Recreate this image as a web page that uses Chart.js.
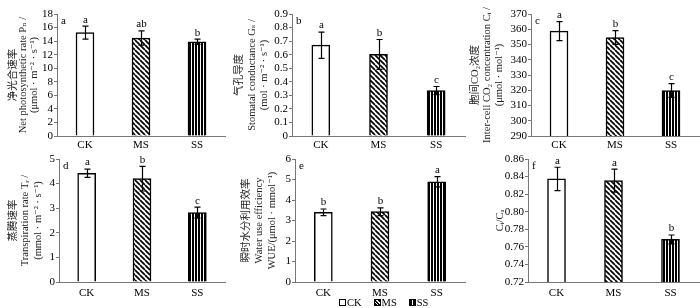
<!DOCTYPE html>
<html><head><meta charset="utf-8">
<script src="https://cdn.jsdelivr.net/npm/chart.js@4.4.1/dist/chart.umd.min.js"></script>
<style>
html,body{margin:0;padding:0;background:#fff;}
#wrap{position:relative;width:700px;height:308px;overflow:hidden;background:#fff;}
#wrap canvas{position:absolute;}
#legend{position:absolute;left:339px;top:296px;height:12px;font:10.5px "Liberation Serif",serif;color:#000;display:flex;align-items:center;white-space:nowrap;}
#legend .it{display:flex;align-items:center;margin-right:12px;}
#legend .box{display:inline-block;width:5px;height:5px;border:1px solid #000;margin-right:1px;}
</style></head><body>
<div id="wrap">
<canvas id="pa" width="230" height="150" style="left:0;top:0"></canvas>
<canvas id="pb" width="240" height="150" style="left:230px;top:0"></canvas>
<canvas id="pc" width="235" height="150" style="left:465px;top:0"></canvas>
<canvas id="pd" width="230" height="158" style="left:0;top:150px"></canvas>
<canvas id="pe" width="240" height="158" style="left:230px;top:150px"></canvas>
<canvas id="pf" width="235" height="158" style="left:465px;top:150px"></canvas>
<div id="legend"></div>
</div>
<script>
// ---- data ----
const categories = ['CK', 'MS', 'SS'];

const valuesA = [15.25, 14.45, 13.9];
const errorsA = [0.95, 1.05, 0.38];
const lettersA = ['a', 'ab', 'b'];
const ticksA = ['0','2','4','6','8','10','12','14','16','18'];

const valuesB = [0.67, 0.602, 0.335];
const errorsB = [0.097, 0.11, 0.03];
const lettersB = ['a', 'b', 'c'];
const ticksB = ['0','0.1','0.2','0.3','0.4','0.5','0.6','0.7','0.8','0.9'];

const valuesC = [358.8, 354.6, 319.8];
const errorsC = [6.2, 4.5, 4.5];
const lettersC = ['a', 'b', 'c'];
const ticksC = ['290','300','310','320','330','340','350','360','370'];

const valuesD = [4.42, 4.2, 2.82];
const errorsD = [0.17, 0.5, 0.22];
const lettersD = ['a', 'b', 'c'];
const ticksD = ['0','1','2','3','4','5'];

const valuesE = [3.40, 3.43, 4.89];
const errorsE = [0.16, 0.19, 0.25];
const lettersE = ['b', 'b', 'a'];
const ticksE = ['0','1','2','3','4','5','6'];

const valuesF = [0.8373, 0.8354, 0.7685];
const errorsF = [0.0133, 0.013, 0.005];
const lettersF = ['a', 'a', 'b'];
const ticksF = ['0.72','0.74','0.76','0.78','0.80','0.82','0.84','0.86'];

const panelTags = ['a', 'b', 'c', 'd', 'e', 'f'];
const titleA = ['净光合速率', 'Net photosynthetic rate Pₙ /', '(μmol · m⁻² · s⁻¹)'];
const titleB = ['气孔导度', 'Stomatal conductance Gₛ /', '(mol · m⁻² · s⁻¹)'];
const titleC = ['胞间CO₂浓度', 'Inter-cell CO₂ concentration Cᵢ /', '(μmol · mol⁻¹)'];
const titleD = ['蒸腾速率', 'Transpiration rate Tᵣ /', '(mmol · m⁻² · s⁻¹)'];
const titleE = ['瞬时水分利用效率', 'Water use efficiency', 'WUE/(μmol · mmol⁻¹)'];
const titleF = ['Cᵢ/Cₐ'];

// ---- styles ----
const SERIF = '"Liberation Serif", "Noto Sans CJK SC", "DejaVu Serif", serif';
const AXIS = '#777';

function hatchPattern() {
  const c = document.createElement('canvas'); c.width = 5; c.height = 5;
  const g = c.getContext('2d');
  g.fillStyle = '#fff'; g.fillRect(0, 0, 5, 5);
  g.strokeStyle = '#000'; g.lineWidth = 1.7;
  for (const k of [-5, 0, 5]) { g.beginPath(); g.moveTo(k, 0); g.lineTo(k + 5, 5); g.stroke(); }
  return g.createPattern(c, 'repeat');
}
function stripePattern() {
  const c = document.createElement('canvas'); c.width = 3; c.height = 3;
  const g = c.getContext('2d');
  g.fillStyle = '#fff'; g.fillRect(0, 0, 3, 3);
  g.fillStyle = '#000'; g.fillRect(0, 0, 2, 3);
  return g.createPattern(c, 'repeat');
}
const fills = ['#ffffff', hatchPattern(), stripePattern()];

function makePanel(id, o) {
  const canvas = document.getElementById(id);
  const W = canvas.width, H = canvas.height;
  const tickVals = o.ticks.map(Number);
  const extras = {
    id: 'extras_' + id,
    afterDatasetsDraw(chart) {
      const ctx = chart.ctx, ys = chart.scales.y, meta = chart.getDatasetMeta(0);
      ctx.save();
      ctx.strokeStyle = '#000'; ctx.lineWidth = 1.2;
      ctx.fillStyle = '#000';
      ctx.font = '11px ' + SERIF;
      ctx.textAlign = 'center'; ctx.textBaseline = 'bottom';
      meta.data.forEach((bar, i) => {
        const v = o.values[i], e = o.errors[i];
        const yt = ys.getPixelForValue(v + e), yb = ys.getPixelForValue(v - e);
        const x = Math.round(bar.x) + 0.5;
        ctx.beginPath();
        ctx.moveTo(x, yt); ctx.lineTo(x, yb);
        ctx.moveTo(x - 3, yt); ctx.lineTo(x + 3, yt);
        ctx.moveTo(x - 3, yb); ctx.lineTo(x + 3, yb);
        ctx.stroke();
        ctx.fillText(o.letters[i], x, yt - 1);
      });
      const a = chart.chartArea;
      ctx.textAlign = 'left'; ctx.textBaseline = 'middle';
      ctx.fillText(o.tag, a.left + 4, a.top + 7);
      ctx.restore();
    }
  };
  return new Chart(canvas, {
    type: 'bar',
    data: {
      labels: categories,
      datasets: [{
        data: o.values,
        backgroundColor: fills,
        borderColor: '#000',
        borderWidth: 1.5,
        barThickness: 18
      }]
    },
    options: {
      responsive: false,
      animation: false,
      devicePixelRatio: 1,
      layout: { padding: { left: 0, top: o.top, right: W - o.right, bottom: 0 } },
      plugins: { legend: { display: false }, tooltip: { enabled: false } },
      scales: {
        x: {
          grid: { display: false, drawTicks: false },
          border: { display: true, color: AXIS, width: 1 },
          ticks: { color: '#000', font: { family: SERIF, size: 11 }, padding: o.xPad },
          afterFit: s => { s.height = H - o.bottom; }
        },
        y: {
          min: tickVals[0], max: tickVals[tickVals.length - 1],
          afterBuildTicks: s => { s.ticks = tickVals.map(v => ({ value: v })); },
          grid: { display: true, drawOnChartArea: false, drawTicks: true, tickLength: 3, color: AXIS },
          border: { display: true, color: AXIS, width: 1 },
          ticks: { color: '#000', font: { family: SERIF, size: 11, lineHeight: 1 }, padding: 1,
                   autoSkip: false, callback: (v, i) => o.ticks[i] },
          title: {
            display: true, text: o.title, color: '#222',
            font: { family: SERIF, size: 10.5, lineHeight: o.lh + 'px' },
            padding: { top: o.tpad, bottom: 0 }
          },
          afterFit: s => { s.width = o.left; }
        }
      }
    },
    plugins: [extras]
  });
}

makePanel('pa', { values: valuesA, errors: errorsA, letters: lettersA, ticks: ticksA, tag: panelTags[0], title: titleA,
  left: 57, right: 225, top: 14, bottom: 136, xPad: 3, lh: 10.5, tpad: 7.5 });
makePanel('pb', { values: valuesB, errors: errorsB, letters: lettersB, ticks: ticksB, tag: panelTags[1], title: titleB,
  left: 62, right: 235, top: 14, bottom: 136, xPad: 3, lh: 12.5, tpad: 3 });
makePanel('pc', { values: valuesC, errors: errorsC, letters: lettersC, ticks: ticksC, tag: panelTags[2], title: titleC,
  left: 66, right: 234, top: 14, bottom: 136, xPad: 3, lh: 12, tpad: 4 });
makePanel('pd', { values: valuesD, errors: errorsD, letters: lettersD, ticks: ticksD, tag: panelTags[3], title: titleD,
  left: 59, right: 225, top: 9, bottom: 132, xPad: 5, lh: 12.3, tpad: 7 });
makePanel('pe', { values: valuesE, errors: errorsE, letters: lettersE, ticks: ticksE, tag: panelTags[4], title: titleE,
  left: 65, right: 235, top: 9, bottom: 132, xPad: 5, lh: 13, tpad: 10 });
makePanel('pf', { values: valuesF, errors: errorsF, letters: lettersF, ticks: ticksF, tag: panelTags[5], title: titleF,
  left: 63, right: 234, top: 9, bottom: 132, xPad: 5, lh: 12, tpad: 29 });

// ---- legend ----
const legendFills = ['#fff',
  'repeating-linear-gradient(45deg,#000 0 1.5px,#fff 1.5px 2.6px)',
  'repeating-linear-gradient(90deg,#000 0 2px,#fff 2px 3px)'];
const lg = document.getElementById('legend');
categories.forEach((c, i) => {
  const it = document.createElement('span'); it.className = 'it';
  const b = document.createElement('span'); b.className = 'box'; b.style.background = legendFills[i];
  const t = document.createElement('span'); t.textContent = c;
  it.appendChild(b); it.appendChild(t); lg.appendChild(it);
});
</script>
</body></html>
